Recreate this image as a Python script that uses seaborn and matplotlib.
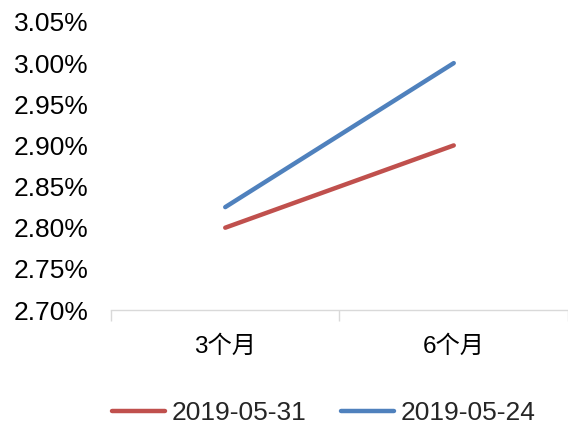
import matplotlib
matplotlib.use("Agg")
import matplotlib.pyplot as plt
import matplotlib.ticker as mticker
import seaborn as sns
import pandas as pd

# Yield curve points by tenor
tenors = ["3个月", "6个月"]
dates = ["2019-05-31", "2019-05-24"]
yields_0531 = [2.80, 2.90]
yields_0524 = [2.825, 3.00]
y_ticks = [2.70, 2.75, 2.80, 2.85, 2.90, 2.95, 3.00, 3.05]

df = pd.DataFrame({
    "tenor": tenors * 2,
    "pos": list(range(len(tenors))) * 2,
    "date": [dates[0]] * len(tenors) + [dates[1]] * len(tenors),
    "yield": yields_0531 + yields_0524,
})

sns.set_theme(style="white")
plt.rcParams["font.family"] = ["Liberation Sans", "Noto Sans CJK SC", "DejaVu Sans"]

fig = plt.figure(figsize=(5.68, 4.28), dpi=100)
ax = fig.add_axes([0.1954, 0.2757, 0.8046, 0.673])

palette = {dates[0]: "#C0504D", dates[1]: "#4F81BD"}
sns.lineplot(data=df, x="pos", y="yield", hue="date", hue_order=dates,
             palette=palette, linewidth=3.2, ax=ax, legend=False,
             solid_capstyle="round")

ax.set_xlim(-0.5, 1.5)
ax.set_ylim(2.70, 3.05)
ax.set_yticks(y_ticks)
ax.yaxis.set_major_formatter(mticker.FuncFormatter(lambda v, p: f"{v:.2f}%"))
ax.tick_params(axis="y", length=0, pad=16, labelsize=19, colors="#000000")

ax.set_xticks(range(len(tenors)))
ax.set_xticklabels(tenors)
ax.xaxis.set_minor_locator(mticker.FixedLocator([-0.5, 0.5, 1.5]))
ax.tick_params(axis="x", which="major", length=0, pad=18, labelsize=17.5, colors="#000000")
ax.tick_params(axis="x", which="minor", length=8, width=1, color="#D9D9D9", bottom=True)

ax.set_xlabel("")
ax.set_ylabel("")
for side in ["left", "right", "top"]:
    ax.spines[side].set_visible(False)
ax.spines["bottom"].set_color("#D9D9D9")
ax.spines["bottom"].set_linewidth(1)
ax.grid(False)

handles = [plt.Line2D([], [], color=palette[d], linewidth=3.2, solid_capstyle="round") for d in dates]
fig.legend(handles, dates, loc="center", bbox_to_anchor=(0.57, 0.034), ncol=2,
           frameon=False, fontsize=19, handlelength=2.0, handletextpad=0.25,
           columnspacing=1.3, borderaxespad=0)

fig.savefig("out.png", dpi=100)
